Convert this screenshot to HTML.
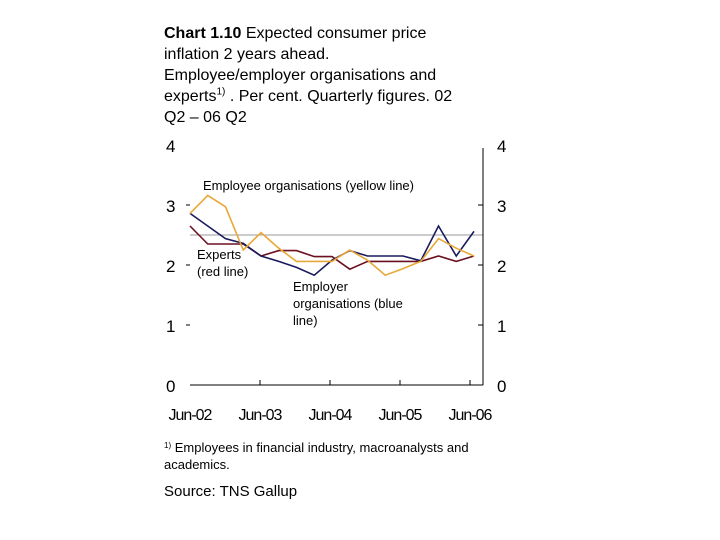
<!DOCTYPE html>
<html><head><meta charset="utf-8"><style>
body{margin:0;background:#fff;width:720px;height:540px;overflow:hidden;font-family:"Liberation Sans",Arial,sans-serif;}
.t{position:absolute;left:164px;top:23px;font-size:16px;line-height:21px;color:#000;width:306px;}
.t sup{font-size:10px;line-height:0;}
svg{position:absolute;left:0;top:0}
</style></head><body>
<div class="t"><b>Chart 1.10</b> Expected consumer price inflation 2 years ahead. Employee/employer organisations and experts<sup>1)</sup> . Per cent. Quarterly figures. 02 Q2 – 06 Q2</div>
<svg id="c" width="720" height="540"></svg>
<script>
const categories=["02Q2","02Q3","02Q4","03Q1","03Q2","03Q3","03Q4","04Q1","04Q2","04Q3","04Q4","05Q1","05Q2","05Q3","05Q4","06Q1","06Q2"];
const employer=[2.86,2.65,2.44,2.36,2.15,2.06,1.96,1.83,2.08,2.24,2.15,2.15,2.15,2.07,2.65,2.15,2.56];
const experts=[2.65,2.35,2.35,2.35,2.15,2.24,2.24,2.14,2.14,1.93,2.06,2.06,2.06,2.06,2.15,2.06,2.15];
const employees=[2.86,3.16,2.97,2.25,2.54,2.28,2.06,2.06,2.06,2.25,2.08,1.83,1.94,2.06,2.44,2.28,2.15];
const yTicks=[0,1,2,3,4];
const xLabels=["Jun-02","Jun-03","Jun-04","Jun-05","Jun-06"];
const NS="http://www.w3.org/2000/svg",s=document.getElementById('c');
const X=i=>190+i*17.75, Y=v=>385-v*60;
function mk(t,a,txt){const e=document.createElementNS(NS,t);for(const k in a)e.setAttribute(k,a[k]);if(txt!==undefined)e.textContent=txt;s.appendChild(e);return e;}
let e;
e=mk('line',{x1:190,x2:483,y1:Y(2.5),y2:Y(2.5),stroke:'#999','stroke-width':1});


e=mk('line',{x1:190,x2:483,y1:385,y2:385,stroke:'#000','stroke-width':1});


e=mk('line',{x1:483,x2:483,y1:148,y2:385,stroke:'#000','stroke-width':1});


yTicks.forEach(v=>{
 e=mk('text',{x:166,y:Y(v)+7,'font-size':17},String(v));
 
 
 e=mk('text',{x:497,y:Y(v)+7,'font-size':17},String(v));
 
 
 if(v>0&&v<4){
  e=mk('line',{x1:186,x2:190,y1:Y(v),y2:Y(v),stroke:'#000'});
  
  
  e=mk('line',{x1:478,x2:483,y1:Y(v),y2:Y(v),stroke:'#000'});
  
  
 }
});
xLabels.forEach((l,k)=>{
 const x=190+k*70;
 if(k>0){e=mk('line',{x1:x,x2:x,y1:380,y2:385,stroke:'#000'});
 
 }
 e=mk('text',{x:x,y:420,'font-size':16,'text-anchor':'middle','letter-spacing':'-1'},l);
 
 
});
[[experts,'#6b1020','experts-line'],[employer,'#1a1a5e','employer-line'],[employees,'#e8a838','employees-line']].forEach(([d,c,n])=>{
 e=mk('polyline',{points:d.map((v,i)=>X(i)+','+Y(v)).join(' '),fill:'none',stroke:c,'stroke-width':1.6});
 
 
});
[[203,190,'Employee organisations (yellow line)'],[197,259,'Experts'],[197,276,'(red line)'],[293,291,'Employer'],[293,308,'organisations (blue'],[293,325,'line)']].forEach(([x,y,t])=>{
 e=mk('text',{x:x,y:y,'font-size':13},t);
 
 
});
e=mk('text',{x:164,y:452,'font-size':13},'');
e.innerHTML='<tspan font-size="8" dy="-4">1)</tspan><tspan dy="4"> Employees in financial industry, macroanalysts and</tspan>';


e=mk('text',{x:164,y:469,'font-size':13},'academics.');


e=mk('text',{x:164,y:496,'font-size':15},'Source: TNS Gallup');


</script>
</body></html>
